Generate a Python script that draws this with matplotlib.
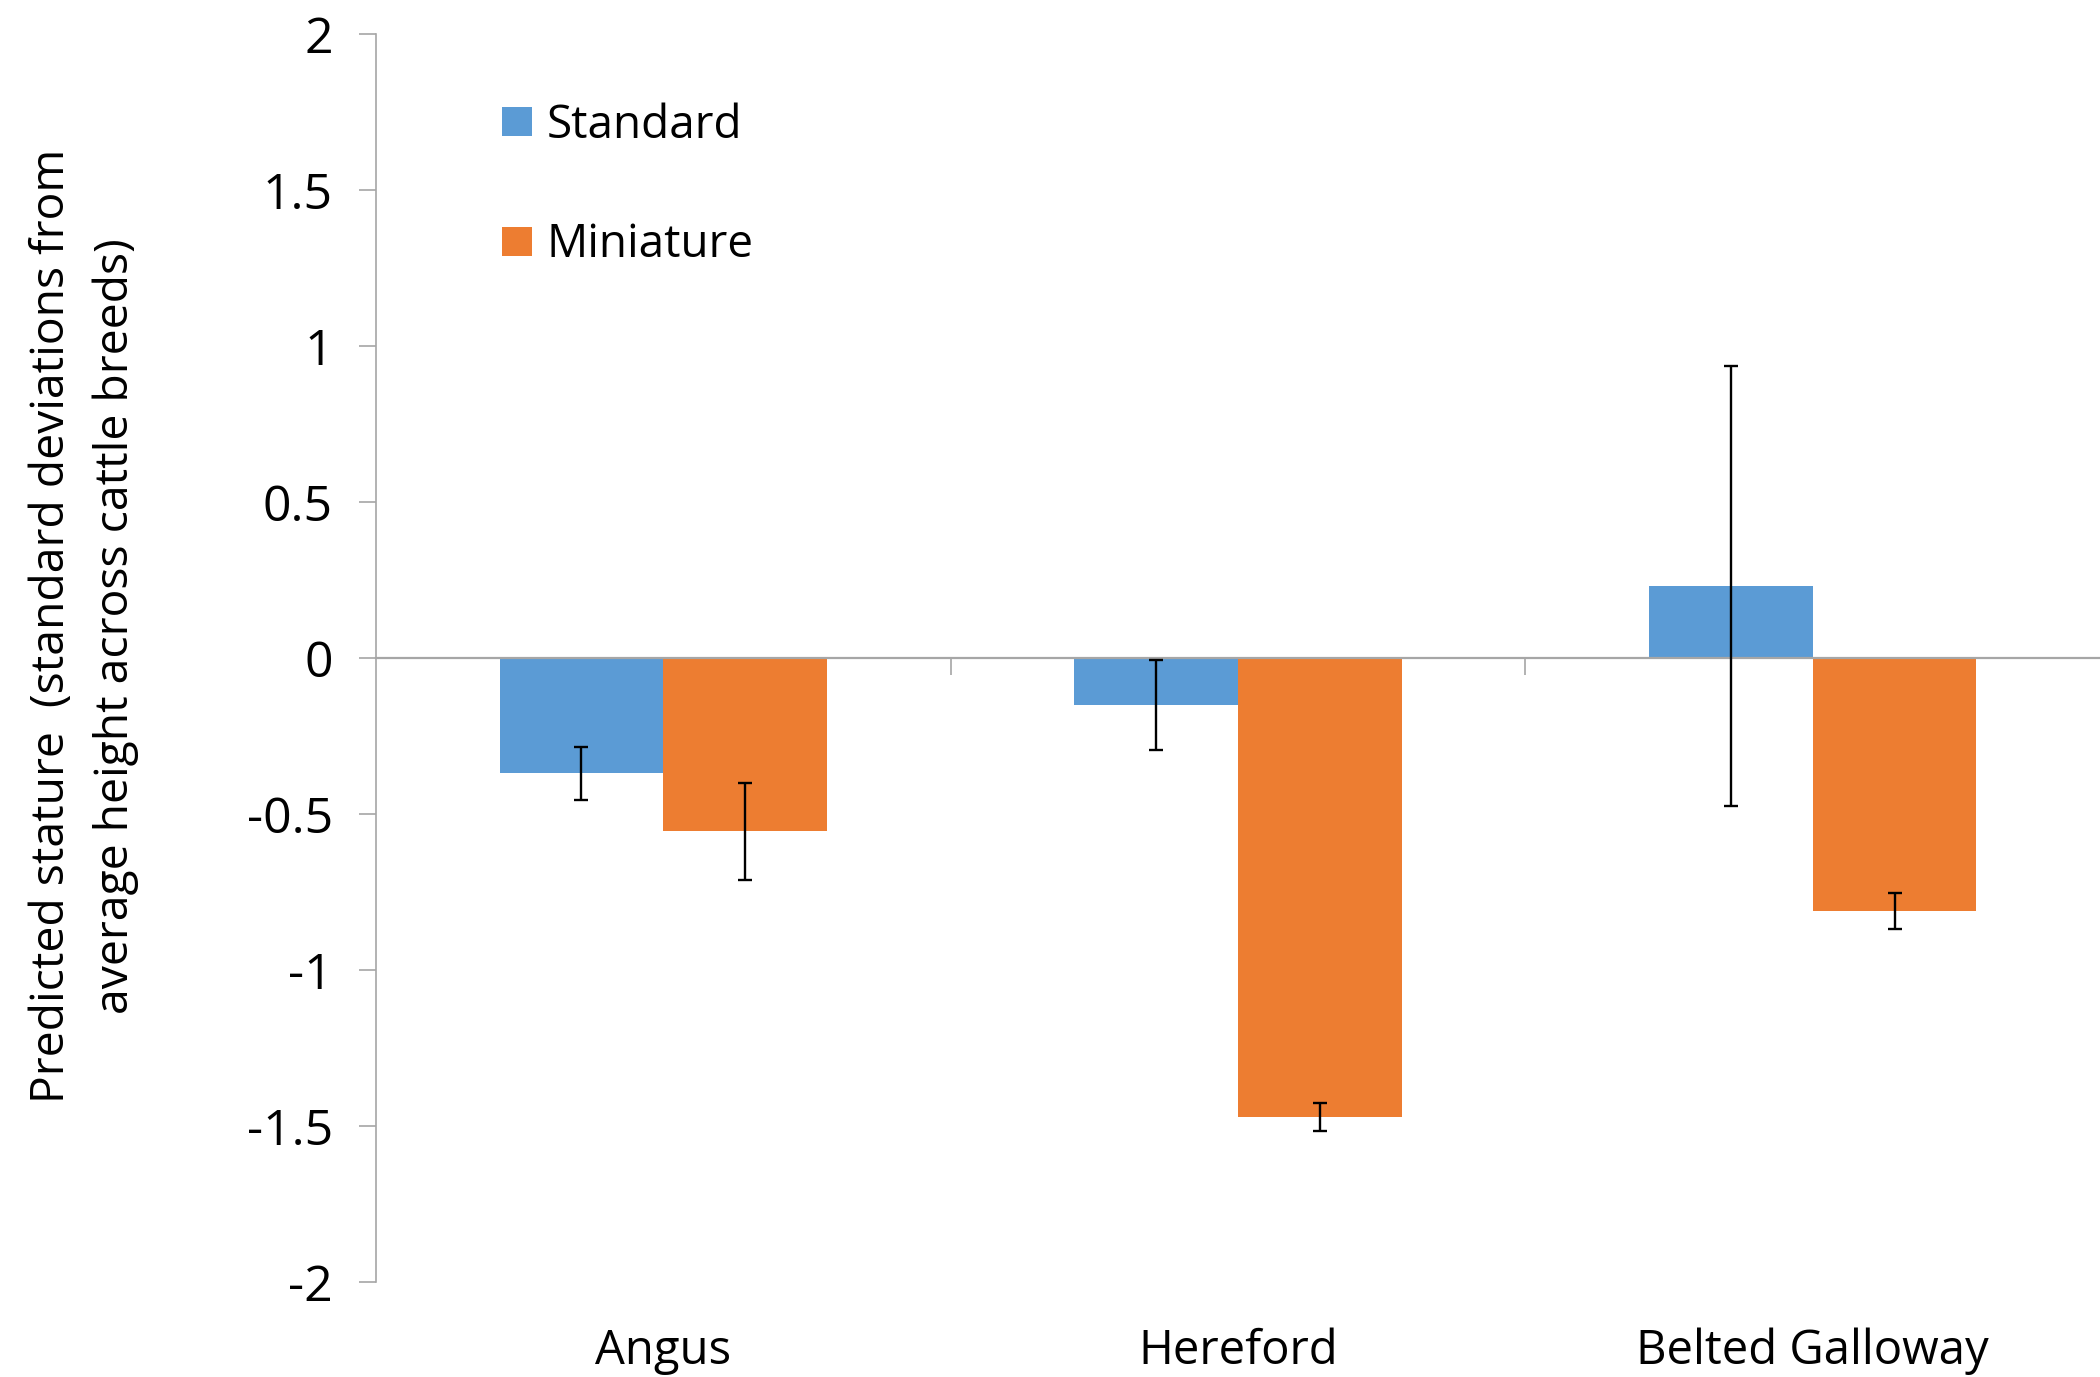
import numpy as np
import matplotlib
matplotlib.use("Agg")
import matplotlib.pyplot as plt
from matplotlib.patches import Patch

plt.rcParams["font.family"] = ["Open Sans", "DejaVu Sans"]
plt.rcParams["axes.unicode_minus"] = False

# Breeds and predicted stature (SD units) with error bar half-widths
breeds = ["Angus", "Hereford", "Belted Galloway"]
standard = [-0.37, -0.15, 0.23]
standard_err = [0.085, 0.145, 0.705]
miniature = [-0.555, -1.47, -0.81]
miniature_err = [0.155, 0.045, 0.057]
series_names = ["Standard", "Miniature"]
y_ticks = [-2, -1.5, -1, -0.5, 0, 0.5, 1, 1.5, 2]

blue = "#5B9BD5"
orange = "#ED7D31"
grey = "#A6A6A6"

fig = plt.figure(figsize=(21, 13.77), dpi=100)
ax = fig.add_axes([376 / 2100, 95 / 1377, 1 - 376 / 2100, 1248 / 1377])

x = np.arange(len(breeds))
width = 0.285
ax.bar(x - width / 2, standard, width, color=blue, zorder=2)
ax.bar(x + width / 2, miniature, width, color=orange, zorder=2)
err_style = dict(fmt="none", ecolor="black", elinewidth=1.7, capsize=4.8,
                 capthick=1.7, zorder=4)
ax.errorbar(x - width / 2, standard, yerr=standard_err, **err_style)
ax.errorbar(x + width / 2, miniature, yerr=miniature_err, **err_style)

ax.set_xlim(-0.5, 2.5)
ax.set_ylim(-2, 2)

# Value axis
ax.set_yticks(y_ticks)
ax.set_yticklabels(["{:g}".format(v) for v in y_ticks])
ax.tick_params(axis="y", direction="out", length=12, width=1.2, color=grey,
               pad=19, labelsize=36)

# Category axis crosses at zero, with tick marks between categories
ax.spines["bottom"].set_position(("data", 0))
ax.spines["bottom"].set_color(grey)
ax.spines["bottom"].set_linewidth(1.6)
ax.set_xticks([0.5, 1.5])
ax.set_xticklabels(["", ""])
ax.tick_params(axis="x", direction="out", length=12, width=1.2, color=grey)

for side in ["top", "right"]:
    ax.spines[side].set_visible(False)
ax.spines["left"].set_color(grey)
ax.spines["left"].set_linewidth(1.2)

# Category labels sit under the plot area
label_axis = ax.secondary_xaxis("bottom")
label_axis.set_xticks(x)
label_axis.set_xticklabels(breeds)
label_axis.tick_params(length=0, pad=33, labelsize=34)
for sp in label_axis.spines.values():
    sp.set_visible(False)

handles = [Patch(facecolor=blue, edgecolor="none"),
           Patch(facecolor=orange, edgecolor="none")]
ax.legend(handles, series_names, loc="upper left",
          bbox_to_anchor=(502 / 2100, 1 - 103 / 1377),
          bbox_transform=fig.transFigure, frameon=False, fontsize=33,
          handlelength=0.66, handleheight=0.6, handletextpad=0.32,
          labelspacing=1.6, borderpad=0, borderaxespad=0)

fig.text(84 / 2100, 1 - 626 / 1377,
         "Predicted stature  (standard deviations from\naverage height across cattle breeds)",
         rotation=90, ha="center", va="center", multialignment="center",
         fontsize=33.3, linespacing=1.48)

fig.savefig("out.png", dpi=100, facecolor="white")
